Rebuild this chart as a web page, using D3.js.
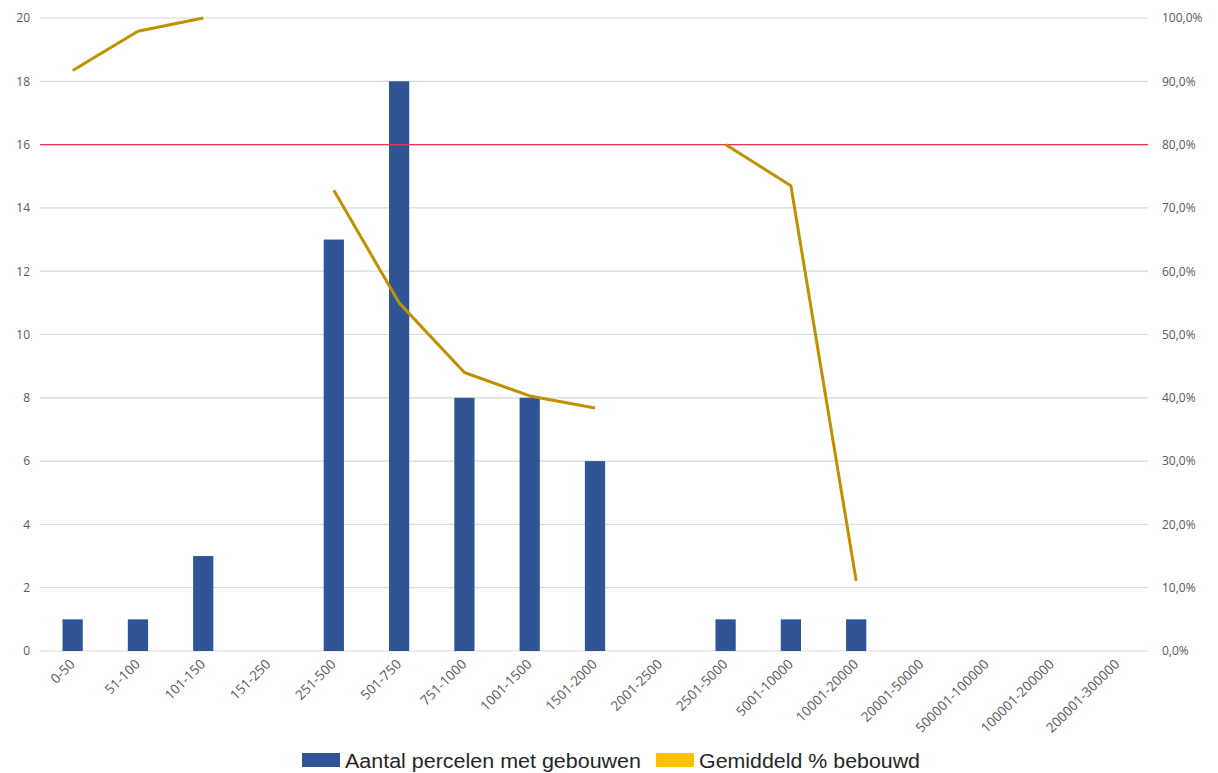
<!DOCTYPE html>
<html><head><meta charset="utf-8">
<script src="https://cdn.jsdelivr.net/npm/d3@7"></script>
<style>body{margin:0;background:#fff}svg{display:block}</style>
</head><body>
<svg id="c" width="1218" height="773"></svg>
<script>
const categories = ["0-50","51-100","101-150","151-250","251-500","501-750","751-1000","1001-1500","1501-2000","2001-2500","2501-5000","5001-10000","10001-20000","20001-50000","500001-100000","100001-200000","200001-300000"];
const counts = [1,1,3,0,13,18,8,8,6,0,1,1,1,0,0,0,0];
const pctBuilt = [91.7,97.9,100,null,72.8,55.0,44.0,40.3,38.4,null,80.0,73.5,11.1,null,null,null,null];
const leftTicks = [0,2,4,6,8,10,12,14,16,18,20];
const rightTicks = [0,10,20,30,40,50,60,70,80,90,100];
const threshold = 16;
const legendLabels = ["Aantal percelen met gebouwen","Gemiddeld % bebouwd"];

const svg = d3.select("#c");
const L = 40, R = 1150, T = 18, B = 651;
const x = d3.scalePoint().domain(categories).range([L, R]).padding(0.5);
const yL = d3.scaleLinear().domain([0,20]).range([B, T]);
const yR = d3.scaleLinear().domain([0,100]).range([B, T]);
const bw = x.step() * 0.31;

// gridlines
svg.append("g").selectAll("line").data(leftTicks).join("line")
  .attr("x1", L).attr("x2", 1148)
  .attr("y1", d => yL(d)).attr("y2", d => yL(d))
  .attr("stroke", "#d9d9d9").attr("stroke-width", 1.2);

// left axis
const axL = svg.append("g").attr("transform", `translate(${L},0)`)
  .call(d3.axisLeft(yL).tickValues(leftTicks).tickSize(0).tickPadding(10));
axL.select(".domain").remove();
axL.selectAll("text").attr("font-family","Open Sans, sans-serif").attr("font-size",12).attr("fill","#595959");

// right axis
const axR = svg.append("g").attr("transform", `translate(1148,0)`)
  .call(d3.axisRight(yR).tickValues(rightTicks).tickSize(0).tickPadding(14)
    .tickFormat(d => d.toFixed(1).replace(".", ",") + "%"));
axR.select(".domain").remove();
axR.selectAll("text").attr("font-family","Open Sans, sans-serif").attr("font-size",12).attr("fill","#595959");

// bars
svg.append("g").selectAll("rect").data(categories.map((c,i)=>({c, v:counts[i]})).filter(d=>d.v>0)).join("rect")
  .attr("x", d => x(d.c) - bw/2).attr("width", bw)
  .attr("y", d => yL(d.v)).attr("height", d => yL(0) - yL(d.v))
  .attr("fill", "#2F5597");

// threshold line
svg.append("line").attr("x1", L).attr("x2", 1148)
  .attr("y1", yL(threshold)).attr("y2", yL(threshold))
  .attr("stroke", "#E8344F").attr("stroke-width", 1.3);

// line series
const line = d3.line().defined(d => d.v !== null).x(d => x(d.c)).y(d => yR(d.v));
svg.append("path").datum(categories.map((c,i)=>({c, v:pctBuilt[i]})))
  .attr("d", line).attr("fill","none").attr("stroke","#BF9000")
  .attr("stroke-width", 3).attr("stroke-linejoin","round");

// x labels
svg.append("g").selectAll("text").data(categories).join("text")
  .attr("transform", d => `translate(${x(d)+3},${665}) rotate(-45)`)
  .attr("text-anchor","end")
  .attr("font-family","Open Sans, sans-serif").attr("font-size",13.5).attr("fill","#595959")
  .text(d => d);

// legend
const lg = svg.append("g");
const colors = ["#2F5597", "#FFC000"];
const lx = [302, 656];
const lw = [296, 221];
legendLabels.forEach((t,i) => {
  lg.append("rect").attr("x", lx[i]).attr("y", 753).attr("width", 38).attr("height", 14).attr("fill", colors[i]);
  lg.append("text").attr("x", lx[i] + 43).attr("y", 768)
    .attr("textLength", lw[i]).attr("lengthAdjust","spacingAndGlyphs")
    .attr("font-family","Liberation Sans, Arial, sans-serif").attr("font-size",20).attr("fill","#262626").text(t);
});
</script>
</body></html>
